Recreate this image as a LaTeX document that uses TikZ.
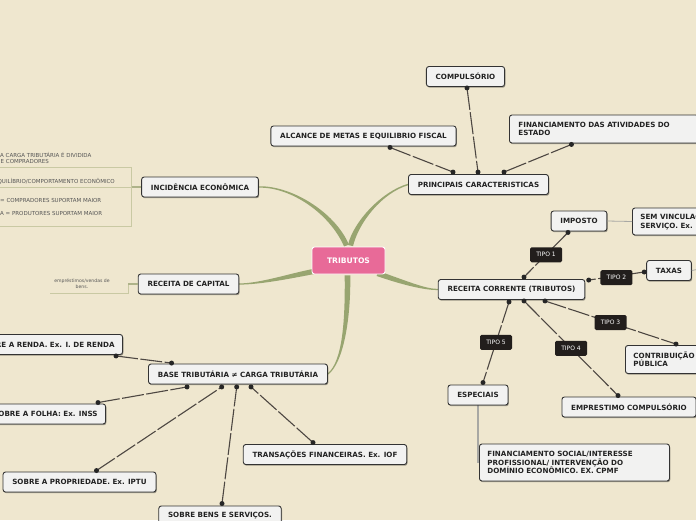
\documentclass[tikz,border=0pt]{standalone}
\usepackage{fontspec}
\setmainfont{DejaVu Sans}
\usetikzlibrary{calc,shadows}
\pgfdeclarelayer{bgfill}
\pgfdeclarelayer{bg}
\pgfsetlayers{bgfill,bg,main}
\definecolor{bgc}{HTML}{EFE7CF}
\definecolor{boxfill}{HTML}{F2F2F1}
\definecolor{boxline}{HTML}{333333}
\definecolor{txt}{HTML}{222222}
\definecolor{pinkc}{HTML}{E86A98}
\definecolor{branchc}{HTML}{98A570}
\definecolor{thinc}{HTML}{C9C9A3}
\definecolor{olivec}{HTML}{AEB389}
\definecolor{connc}{HTML}{4D4742}
\definecolor{tipoc}{HTML}{221E1C}
\definecolor{grayc}{HTML}{A8A8A4}
\definecolor{smalltxt}{HTML}{555555}
\newcommand\taper[6]{%
  \path (#1) coordinate (tA) (#2) coordinate (tB) (#3) coordinate (tC) (#4) coordinate (tD);
  \path ($(tA)!#5!90:(tB)$) coordinate (a1) ($(tA)!#5!-90:(tB)$) coordinate (a2)
        ($(tD)!#6!-90:(tC)$) coordinate (d1) ($(tD)!#6!90:(tC)$) coordinate (d2);
  \fill[branchc] (a1) .. controls ($(tB)+(a1)-(tA)$) and ($(tC)+(d1)-(tD)$) .. (d1)
     -- (d2) .. controls ($(tC)+(d2)-(tD)$) and ($(tB)+(a2)-(tA)$) .. (a2) -- cycle;}
\begin{document}
\begin{tikzpicture}[x=1pt,y=-1pt,
  box/.style={draw=boxline, fill=boxfill, rounded corners=2.5pt, line width=0.9pt,
    font=\bfseries\fontsize{7.15}{8.4}\selectfont, text=txt, inner xsep=9.3pt, inner ysep=0pt,
    minimum height=20pt,
    drop shadow={shadow xshift=0.8pt, shadow yshift=-1.2pt, opacity=0.35, fill=black}},
  mbox/.style={box, align=left, inner ysep=4pt},
  tipo/.style={fill=tipoc, text=white, rounded corners=1.5pt, font=\fontsize{6}{7}\selectfont,
    minimum width=32pt, minimum height=15pt, inner sep=0pt},
  conn/.style={draw=connc, line width=1.1pt, dash pattern=on 22pt off 2.5pt},
  dotc/.style={fill=black!85},
  thinline/.style={draw=thinc, line width=0.8pt},
  oliveline/.style={draw=olivec, line width=1.4pt},
  small/.style={font=\fontsize{5.5}{6.5}\selectfont, text=smalltxt, inner sep=0pt}
]
\begin{pgfonlayer}{bgfill}
\fill[bgc] (0,0) rectangle (696,520);
\end{pgfonlayer}
\useasboundingbox (0,0) rectangle (696,520);

% central
\node[draw=white, line width=0.9pt, fill=pinkc, rounded corners=2.5pt, text=white,
  font=\bfseries\fontsize{7.6}{9}\selectfont, minimum width=73pt, minimum height=27pt,
  inner sep=0pt] (trib) at (348.5,260.5) {TRIBUTOS};

% main topics
\node[box] (princ) at (478.5,184.5) {PRINCIPAIS CARACTERISTICAS};
\node[box] (incid) at (200,187) {INCIDÊNCIA ECONÔMICA};
\node[box] (cap) at (188.5,284) {RECEITA DE CAPITAL};
\node[box] (corr) at (511.5,289.5) {RECEITA CORRENTE (TRIBUTOS)};
\node[box] (base) at (238,374) {BASE TRIBUTÁRIA ≠ CARGA TRIBUTÁRIA};

% principais children
\node[box] (comp) at (465.5,76.5) {COMPULSÓRIO};
\node[box] (alc) at (363.5,136) {ALCANCE DE METAS E EQUILIBRIO FISCAL};
\node[mbox, anchor=west, text width=171pt, inner xsep=9pt, minimum height=28pt] (fin) at (509,129)
  {FINANCIAMENTO DAS ATIVIDADES DO\\ESTADO};

% receita corrente children
\node[box] (imp) at (579,221) {IMPOSTO};
\node[mbox, anchor=west, inner xsep=8pt, minimum height=27pt] (sem) at (632,221.5) {SEM VINCULAÇÃO A UM\\SERVIÇO. Ex. IR};
\node[box] (taxas) at (669,270.5) {TAXAS};
\node[mbox, anchor=west, inner xsep=8pt, minimum height=28pt] (contrib) at (625,359.5) {CONTRIBUIÇÃO\\PÚBLICA};
\node[box] (empr) at (629,407) {EMPRESTIMO COMPULSÓRIO};
\node[box] (esp) at (478,395) {ESPECIAIS};
\node[mbox, anchor=west, inner xsep=8pt, text width=174pt, minimum height=37pt] (finsoc) at (479,462.5)
  {FINANCIAMENTO SOCIAL/INTERESSE\\PROFISSIONAL/ INTERVENÇÃO DO\\DOMÍNIO ECONÔMICO. EX. CPMF};

% base children
\node[box, anchor=east, inner xsep=8pt] (renda) at (123,344.5) {SOBRE A RENDA. Ex. I. DE RENDA};
\node[box, anchor=east, inner xsep=8pt] (folha) at (106,414) {SOBRE A FOLHA: Ex. INSS};
\node[box] (prop) at (79.5,482) {SOBRE A PROPRIEDADE. Ex. IPTU};
\node[box] (bens) at (220,516) {SOBRE BENS E SERVIÇOS.};
\node[box] (trans) at (325,454.5) {TRANSAÇÕES FINANCEIRAS. Ex. IOF};

% small left texts
\node[small, anchor=west] (t1) at (0,155) {A CARGA TRIBUTÁRIA É DIVIDIDA};
\node[small, anchor=west] (t2) at (0.5,161) {E COMPRADORES};
\node[small, anchor=east] (t3) at (115,181.5) {EQUILÍBRIO/COMPORTAMENTO ECONÔMICO};
\node[small, anchor=west] (t4) at (0,200) {= COMPRADORES SUPORTAM MAIOR};
\node[small, anchor=west] (t5) at (0,213) {A = PRODUTORES SUPORTAM MAIOR};
\node[small, font=\fontsize{4.6}{6}\selectfont, align=center] (t6) at (82,284) {empréstimos/vendas de\\bens.};

% thin structure lines
\coordinate (incL) at (131.5,187);
\draw[thinline] (0,167) -- (131.5,167) -- (131.5,226) -- (0,226);
\draw[thinline] (0,187) -- (incL);
\draw[oliveline] (incL) -- (incid.west);
\coordinate (capA) at (50,293);
\coordinate (capB) at (128,293);
\coordinate (capC) at (128,284);
\draw[thinline] (capA) -- (capB) -- (capC);
\draw[oliveline] (capC) -- (cap.west);

% gray lines
\coordinate (taxR) at (705,268);
\draw[grayc, line width=0.8pt] (imp.east) -- (sem.west);
\draw[grayc, line width=0.8pt] (taxas.east) -- (taxR);
\begin{pgfonlayer}{bg}
\draw[grayc, line width=2pt] (esp.south) -- (esp.south |- finsoc.west);
\end{pgfonlayer}

% tapered branches
\begin{pgfonlayer}{bg}
\taper{[xshift=2pt,yshift=1pt]trib.north}{356,222}{382,192}{princ.west}{2.6pt}{0.7pt}
\taper{[xshift=-2pt,yshift=1pt]trib.north}{332,212}{290,186}{incid.east}{2.6pt}{0.7pt}
\taper{[xshift=2pt,yshift=-11pt]trib.west}{290,276}{260,284}{cap.east}{2.6pt}{0.6pt}
\taper{[xshift=-8pt,yshift=-13pt]trib.east}{405,283}{425,289.5}{corr.west}{2.6pt}{0.6pt}
\taper{[xshift=-1pt,yshift=-1pt]trib.south}{348,320}{343,362}{base.east}{2.8pt}{0.6pt}
\end{pgfonlayer}

% connectors with dots
\coordinate (pc1) at ([xshift=-25.5pt,yshift=2pt]princ.north);
\coordinate (pc2) at ([xshift=-0.5pt,yshift=2pt]princ.north);
\coordinate (pc3) at ([xshift=25.5pt,yshift=2pt]princ.north);
\coordinate (cm1) at ([xshift=1.5pt,yshift=-1pt]comp.south);
\coordinate (al1) at ([xshift=26.5pt,yshift=-1pt]alc.south);
\coordinate (fi1) at ([xshift=-32.5pt,yshift=-1pt]fin.south);
\draw[conn] (cm1) -- (pc2);
\draw[conn] (al1) -- (pc1);
\draw[conn] (fi1) -- (pc3);
\foreach \p in {pc1,pc2,pc3,cm1,al1,fi1} \fill[dotc] (\p) circle (2.5);

\coordinate (im1) at ([xshift=-11pt,yshift=-1pt]imp.south);
\coordinate (co1) at ([xshift=12.5pt,yshift=2pt]corr.north);
\coordinate (co2) at ([xshift=3.5pt,yshift=-1pt]corr.north east);
\coordinate (tx1) at ([xshift=-2pt,yshift=-1.5pt]taxas.west);
\coordinate (co3) at ([xshift=-2.5pt,yshift=-2pt]corr.south);
\coordinate (co4) at ([xshift=12.5pt,yshift=-1pt]corr.south);
\coordinate (co5) at ([xshift=33.5pt,yshift=-1pt]corr.south);
\coordinate (ct1) at ([xshift=51pt,yshift=1pt]contrib.north west);
\coordinate (em1) at ([xshift=-11pt,yshift=1pt]empr.north);
\coordinate (es1) at ([xshift=5pt,yshift=2pt]esp.north);
\draw[conn] (im1) -- node[tipo]{TIPO 1} (co1);
\draw[conn] (tx1) -- node[tipo, yshift=-1.5pt]{TIPO 2} (co2);
\draw[conn] (co5) -- node[tipo]{TIPO 3} (ct1);
\draw[conn] (co4) -- node[tipo]{TIPO 4} (em1);
\draw[conn] (co3) -- node[tipo]{TIPO 5} (es1);
\foreach \p in {im1,co1,co2,tx1,co3,co4,co5,ct1,em1,es1} \fill[dotc] (\p) circle (2.5);

\coordinate (ba1) at ([xshift=23.5pt,yshift=0.5pt]base.north west);
\coordinate (ba2) at ([xshift=-51pt,yshift=-2.5pt]base.south);
\coordinate (ba3) at ([xshift=-16.3pt,yshift=-2.5pt]base.south);
\coordinate (ba4) at ([xshift=-1.3pt,yshift=-2.5pt]base.south);
\coordinate (ba5) at ([xshift=13pt,yshift=-2.5pt]base.south);
\coordinate (re1) at ([xshift=-7pt,yshift=-1pt]renda.south east);
\coordinate (fo1) at ([xshift=-8pt,yshift=1pt]folha.north east);
\coordinate (pr1) at ([xshift=17pt,yshift=1pt]prop.north);
\coordinate (be1) at ([xshift=2pt,yshift=2pt]bens.north);
\coordinate (tr1) at ([xshift=-12pt,yshift=1.5pt]trans.north);
\draw[conn] (re1) -- (ba1);
\draw[conn] (fo1) -- (ba2);
\draw[conn] (pr1) -- (ba3);
\draw[conn] (be1) -- (ba4);
\draw[conn] (tr1) -- (ba5);
\foreach \p in {ba1,ba2,ba3,ba4,ba5,re1,fo1,pr1,be1,tr1} \fill[dotc] (\p) circle (2.5);
\end{tikzpicture}
\end{document}
